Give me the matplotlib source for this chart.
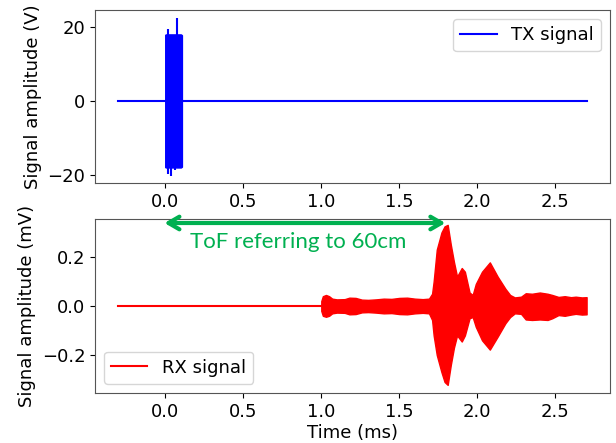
import matplotlib
matplotlib.use("Agg")
import matplotlib.pyplot as plt
import numpy as np

# ---- data ----
# TX baseline
tx_t = [-0.3, 2.7]
tx_v = [0.0, 0.0]
# TX burst envelope
tx_burst_t = [0.0, 0.005, 0.10, 0.107]
tx_burst_hi = [17.9, 18.0, 18.0, 17.8]
tx_burst_lo = [-17.9, -18.0, -18.0, -17.8]
# TX spikes
tx_spike_t = [0.017, 0.075, 0.02, 0.035, 0.06]
tx_spike_v = [19.4, 22.4, -19.8, -20.3, -18.6]

# RX baseline
rx_t0 = [-0.3, 1.0]
rx_v0 = [0.0, 0.0]
# RX envelope
rx_t = [1.00, 1.01, 1.03, 1.05, 1.07, 1.10, 1.15, 1.18, 1.22, 1.26, 1.30, 1.35,
        1.40, 1.45, 1.50, 1.55, 1.60, 1.65, 1.69, 1.71, 1.72, 1.74, 1.77, 1.79,
        1.81, 1.83, 1.85, 1.87, 1.90, 1.92, 1.95, 1.97, 1.99, 2.03, 2.08, 2.13,
        2.18, 2.21, 2.24, 2.28, 2.31, 2.35, 2.40, 2.45, 2.48, 2.52, 2.56, 2.60,
        2.63, 2.67, 2.70]
rx_hi = [0.02, 0.040, 0.045, 0.040, 0.030, 0.027, 0.028, 0.034, 0.033, 0.026,
         0.025, 0.027, 0.030, 0.029, 0.033, 0.034, 0.030, 0.028, 0.030, 0.050,
         0.100, 0.230, 0.300, 0.325, 0.331, 0.250, 0.180, 0.120, 0.155, 0.140,
         0.055, 0.045, 0.090, 0.140, 0.178, 0.120, 0.070, 0.045, 0.035, 0.038,
         0.052, 0.050, 0.055, 0.050, 0.045, 0.037, 0.040, 0.036, 0.038, 0.035,
         0.036]
rx_lo = [-0.02, -0.040, -0.044, -0.040, -0.030, -0.027, -0.028, -0.034, -0.033,
         -0.026, -0.025, -0.027, -0.030, -0.029, -0.033, -0.034, -0.030, -0.028,
         -0.030, -0.057, -0.120, -0.200, -0.270, -0.310, -0.322, -0.240, -0.170,
         -0.120, -0.145, -0.120, -0.050, -0.045, -0.085, -0.140, -0.178, -0.125,
         -0.070, -0.045, -0.030, -0.032, -0.055, -0.057, -0.055, -0.057, -0.050,
         -0.037, -0.040, -0.035, -0.032, -0.035, -0.034]

# ---- figure ----
plt.rcParams['font.family'] = ['DejaVu Sans']
plt.rcParams['font.size'] = 13
fig = plt.figure(figsize=(6.16, 4.43), dpi=100)
W, H = 616, 443
ax1 = fig.add_axes([95 / W, 1 - 183 / H, 515 / W, 173 / H])
ax2 = fig.add_axes([95 / W, 1 - 393 / H, 515 / W, 174 / H])

# top
ax1.plot(tx_t, tx_v, color='blue', lw=1.5, label='TX signal')
ax1.fill_between(tx_burst_t, tx_burst_lo, tx_burst_hi, color='blue', lw=1)
ax1.vlines(tx_spike_t, 0, tx_spike_v, color='blue', lw=1.5)
ax1.set_ylabel('Signal amplitude (V)')
ax1.legend(loc='upper right', fontsize=13)

# bottom
ax2.plot(rx_t0, rx_v0, color='red', lw=1.5, label='RX signal')
ax2.fill_between(rx_t, rx_lo, rx_hi, color='red', lw=1)
ax2.set_ylabel('Signal amplitude (mV)')
ax2.set_xlabel('Time (ms)', labelpad=2)
ax2.legend(loc='lower left', fontsize=13)

for ax in (ax1, ax2):
    ax.set_xlim(-0.45, 2.85)
    ax.set_xticks([0.0, 0.5, 1.0, 1.5, 2.0, 2.5])
    for s in ax.spines.values():
        s.set_color('#555555')
ax1.set_ylim(-22.2, 24.6)
ax1.set_yticks([-20, 0, 20])
ax2.set_ylim(-0.355, 0.355)
ax2.set_yticks([-0.2, 0.0, 0.2])

# annotation
green = '#00B050'
ax2.annotate('', xy=(-0.005, 0.977), xytext=(1.795, 0.977),
             xycoords=('data', 'axes fraction'), textcoords=('data', 'axes fraction'),
             arrowprops=dict(arrowstyle='<->,head_length=0.6,head_width=0.35',
                             color=green, lw=3, shrinkA=0, shrinkB=0),
             annotation_clip=False)
ax2.text(0.85, 0.868, 'ToF referring to 60cm', color=green, fontsize=16,
         family=['Lato', 'DejaVu Sans'], ha='center', va='center',
         transform=ax2.get_xaxis_transform())

fig.savefig('out.png', dpi=100)
